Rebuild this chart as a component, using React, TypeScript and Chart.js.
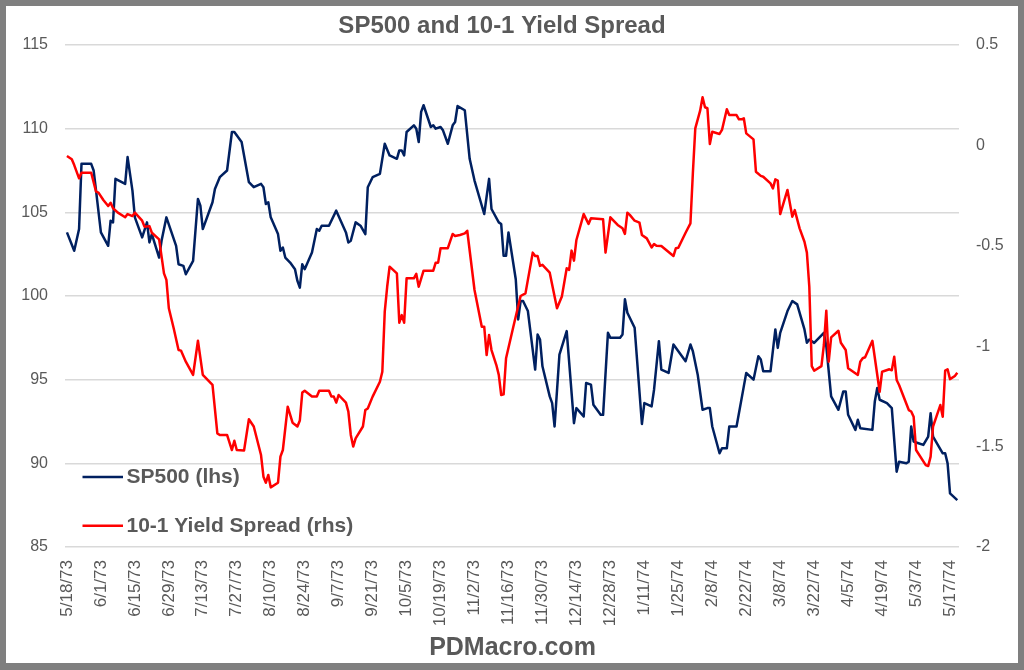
import React, { useEffect, useRef } from "react";
import { Chart, registerables } from "chart.js";

Chart.register(...registerables);

const titleText = "SP500 and 10-1 Yield Spread";
const footerText = "PDMacro.com";

// x tick labels, every 14 days starting 5/18/73 (day 0)
const dateLabels = [
  "5/18/73", "6/1/73", "6/15/73", "6/29/73", "7/13/73", "7/27/73", "8/10/73",
  "8/24/73", "9/7/73", "9/21/73", "10/5/73", "10/19/73", "11/2/73", "11/16/73",
  "11/30/73", "12/14/73", "12/28/73", "1/11/74", "1/25/74", "2/8/74", "2/22/74",
  "3/8/74", "3/22/74", "4/5/74", "4/19/74", "5/3/74", "5/17/74",
];
const tickStepDays = 14;

// SP500 (lhs): days since 5/18/73 and index level
const spDays = [
  0, 3, 5, 6, 10, 11, 12, 14, 17, 18, 19, 20, 24, 25, 27, 28, 31, 33, 34, 35,
  38, 39, 41, 45, 46, 48, 49, 52, 54, 55, 56, 60, 61, 63, 66, 68, 69, 72, 75, 77,
  80, 81, 82, 83, 84, 87, 88, 89, 90, 92, 94, 95, 96, 97, 98, 101, 103, 104, 105, 108,
  111, 115, 116, 117, 119, 121, 123, 124, 126, 129, 131, 133, 136, 137, 138, 139, 140, 143, 144, 145,
  146, 147, 150, 151, 152, 154, 155, 157, 159, 160, 161, 164, 166, 168, 172, 174, 175, 178, 179, 180,
  181, 182, 185, 186, 187, 188, 190, 193, 194, 195, 196, 199, 200, 201, 203, 206, 209, 210, 213, 214,
  216, 217, 220, 221, 223, 224, 228, 229, 230, 231, 234, 237, 238, 241, 242, 244, 245, 248, 250, 255,
  257, 258, 260, 262, 264, 265, 266, 269, 270, 272, 273, 276, 279, 280, 283, 285, 286, 287, 290, 292,
  293, 294, 297, 299, 301, 304, 305, 306, 308, 310, 312, 313, 315, 318, 320, 321, 322, 325, 326, 327,
  332, 333, 334, 335, 338, 340, 342, 343, 346, 347, 348, 349, 351, 353, 355, 356, 357, 361, 362, 363,
  364, 367,
];
const spValues = [
  103.8, 102.7, 104.0, 107.9, 107.9, 107.5, 106.3, 103.8, 103.0, 104.5, 104.4, 107.0, 106.7, 108.3, 106.3, 104.7, 103.5, 104.4, 103.2, 103.7,
  102.3, 103.3, 104.7, 103.0, 101.9, 101.8, 101.3, 102.1, 105.8, 105.4, 104.0, 105.6, 106.4, 107.1, 107.5, 109.8, 109.8, 109.2, 106.8, 106.5,
  106.7, 106.5, 105.5, 105.6, 104.7, 103.7, 102.7, 102.9, 102.3, 102.0, 101.6, 100.9, 100.5, 101.9, 101.6, 102.6, 104.0, 103.9, 104.2, 104.2,
  105.1, 103.8, 103.2, 103.3, 104.4, 104.2, 103.7, 106.5, 107.1, 107.3, 109.1, 108.4, 108.2, 108.7, 108.7, 108.4, 109.8, 110.2, 110.0, 109.2,
  111.0, 111.4, 110.1, 110.2, 110.0, 110.1, 109.9, 109.1, 110.2, 110.4, 111.35, 111.1, 108.2, 106.9, 104.9, 107.0, 105.2, 104.4, 104.3, 102.4,
  102.4, 103.8, 101.0, 98.6, 99.7, 99.7, 99.1, 95.6, 97.7, 97.4, 95.8, 94.0, 93.6, 92.2, 96.5, 97.9, 92.4, 93.3, 92.8, 94.8,
  94.7, 93.5, 92.9, 92.9, 97.8, 97.5, 97.5, 97.7, 99.8, 99.0, 98.1, 92.35, 93.6, 93.4, 94.4, 97.3, 95.6, 95.4, 97.1, 96.1,
  97.1, 96.7, 95.3, 93.2, 93.3, 93.3, 92.2, 90.6, 90.9, 90.9, 92.2, 92.2, 94.6, 95.4, 95.0, 96.4, 96.2, 95.5, 95.5, 98.0,
  96.9, 97.8, 99.1, 99.7, 99.5, 98.0, 97.2, 97.4, 97.2, 97.5, 97.8, 97.0, 94.0, 93.2, 94.3, 94.3, 92.9, 92.0, 92.6, 92.1,
  92.0, 93.7, 94.5, 93.8, 93.6, 93.3, 89.5, 90.1, 90.0, 90.1, 92.2, 91.3, 91.2, 91.1, 91.6, 93.0, 91.6, 90.6, 90.6, 90.0,
  88.2, 87.8,
];

// 10-1 Yield Spread (rhs): days since 5/18/73 and spread
const spreadDays = [
  0, 2, 3, 5, 6, 10, 12, 13, 15, 17, 18, 19, 21, 24, 25, 27, 28, 31, 32, 34,
  35, 38, 40, 41, 42, 44, 46, 47, 49, 52, 54, 56, 60, 62, 63, 66, 68, 69, 70, 73,
  75, 77, 80, 81, 82, 83, 84, 87, 88, 89, 91, 93, 95, 96, 97, 98, 101, 103, 104, 108,
  109, 110, 111, 112, 115, 116, 117, 118, 119, 122, 123, 124, 126, 129, 130, 131, 132, 133, 136, 137,
  138, 139, 140, 143, 144, 145, 147, 151, 152, 153, 154, 157, 159, 160, 162, 164, 165, 168, 171, 172,
  173, 174, 175, 177, 178, 179, 180, 181, 184, 187, 189, 192, 193, 194, 195, 196, 199, 202, 204, 206,
  207, 208, 209, 210, 213, 215, 216, 221, 222, 224, 227, 229, 230, 231, 232, 234, 236, 237, 239, 241,
  242, 243, 245, 250, 251, 252, 255, 257, 258, 259, 261, 262, 263, 264, 265, 266, 269, 270, 272, 273,
  276, 277, 278, 279, 280, 283, 284, 286, 287, 290, 291, 292, 293, 294, 297, 299, 300, 302, 304, 305,
  306, 307, 308, 311, 312, 313, 314, 315, 318, 319, 321, 322, 326, 327, 328, 329, 332, 335, 336, 339,
  340, 341, 342, 343, 347, 348, 349, 350, 354, 355, 356, 357, 360, 361, 362, 363, 364, 366, 367,
];
const spreadValues = [
  -0.053, -0.069, -0.098, -0.164, -0.136, -0.136, -0.23, -0.235, -0.272, -0.302, -0.286, -0.313, -0.335, -0.358, -0.342, -0.352, -0.335, -0.375, -0.405, -0.402,
  -0.435, -0.468, -0.637, -0.67, -0.811, -0.911, -1.019, -1.022, -1.077, -1.143, -0.973, -1.143, -1.193, -1.434, -1.442, -1.442, -1.517, -1.471, -1.517, -1.52,
  -1.364, -1.4, -1.542, -1.65, -1.68, -1.641, -1.703, -1.68, -1.55, -1.517, -1.301, -1.381, -1.4, -1.37, -1.231, -1.222, -1.251, -1.251, -1.222, -1.222,
  -1.251, -1.251, -1.281, -1.243, -1.281, -1.326, -1.442, -1.5, -1.459, -1.4, -1.318, -1.31, -1.251, -1.177, -1.127, -0.828, -0.704, -0.604, -0.637, -0.883,
  -0.845, -0.883, -0.662, -0.662, -0.64, -0.704, -0.624, -0.624, -0.584, -0.584, -0.512, -0.512, -0.441, -0.451, -0.446, -0.438, -0.425, -0.72, -0.903, -0.903,
  -1.044, -0.944, -1.019, -1.094, -1.143, -1.243, -1.24, -1.06, -0.903, -0.75, -0.737, -0.534, -0.551, -0.551, -0.6, -0.595, -0.634, -0.811, -0.753, -0.612,
  -0.62, -0.524, -0.574, -0.471, -0.342, -0.391, -0.363, -0.368, -0.534, -0.358, -0.396, -0.413, -0.441, -0.335, -0.346, -0.375, -0.385, -0.446, -0.463, -0.508,
  -0.491, -0.5, -0.501, -0.551, -0.512, -0.51, -0.435, -0.388, -0.139, 0.085, 0.173, 0.24, 0.19, 0.185, 0.007, 0.068, 0.057, 0.077, 0.18, 0.151,
  0.151, 0.13, 0.13, 0.135, 0.06, 0.03, -0.131, -0.152, -0.156, -0.189, -0.214, -0.169, -0.175, -0.342, -0.222, -0.355, -0.322, -0.413, -0.48, -0.534,
  -0.704, -1.099, -1.122, -1.099, -0.994, -0.823, -1.077, -0.956, -0.923, -0.983, -1.019, -1.11, -1.143, -1.077, -1.06, -1.055, -0.973, -1.227, -1.127, -1.115,
  -1.12, -1.052, -1.168, -1.193, -1.318, -1.325, -1.351, -1.517, -1.592, -1.597, -1.55, -1.4, -1.293, -1.351, -1.122, -1.115, -1.164, -1.148, -1.132,
];

const spLabel = "SP500 (lhs)";
const spreadLabel = "10-1 Yield Spread (rhs)";
const spColor = "#002060";
const spreadColor = "#FF0000";
const textColor = "#595959";
const FONT = "'Liberation Sans', Arial, sans-serif";

const decorPlugin = {
  id: "decor",
  afterDraw(chart: any) {
    const ctx = chart.ctx;
    ctx.save();
    ctx.fillStyle = textColor;
    ctx.textBaseline = "alphabetic";
    ctx.textAlign = "center";
    ctx.font = `bold 24px ${FONT}`;
    ctx.fillText(titleText, 496, 27);
    ctx.font = `bold 25px ${FONT}`;
    ctx.fillText(footerText, 506.5, 649);

    const items = [
      { label: spLabel, color: spColor },
      { label: spreadLabel, color: spreadColor },
    ];
    ctx.textAlign = "left";
    ctx.font = `bold 21px ${FONT}`;
    items.forEach((it, i) => {
      const ly = 471 + i * 48.7;
      ctx.strokeStyle = it.color;
      ctx.lineWidth = 2.5;
      ctx.beginPath();
      ctx.moveTo(76.5, ly);
      ctx.lineTo(117, ly);
      ctx.stroke();
      ctx.fillStyle = textColor;
      ctx.fillText(it.label, 120.5, ly + 6.3);
    });
    ctx.restore();
  },
};

export default function App() {
  const ref = useRef<HTMLCanvasElement | null>(null);

  useEffect(() => {
    if (!ref.current) return;
    const spData = spDays.map((d, i) => ({ x: d, y: spValues[i] }));
    const spreadData = spreadDays.map((d, i) => ({ x: d, y: spreadValues[i] }));

    const chart = new Chart(ref.current, {
      type: "line",
      data: {
        datasets: [
          {
            label: spLabel,
            data: spData,
            yAxisID: "y",
            borderColor: spColor,
            backgroundColor: spColor,
            borderWidth: 2.5,
            pointRadius: 0,
            tension: 0,
            borderJoinStyle: "round",
            order: 1,
          },
          {
            label: spreadLabel,
            data: spreadData,
            yAxisID: "y1",
            borderColor: spreadColor,
            backgroundColor: spreadColor,
            borderWidth: 2.5,
            pointRadius: 0,
            tension: 0,
            borderJoinStyle: "round",
            order: 0,
          },
        ],
      },
      options: {
        animation: false,
        responsive: false,
        devicePixelRatio: 1,
        events: [],
        layout: { padding: { top: 39, left: 0, right: 0, bottom: 0 } },
        plugins: {
          legend: { display: false },
          title: { display: false },
          tooltip: { enabled: false },
        },
        scales: {
          x: {
            type: "linear",
            min: -0.8,
            max: 367.7,
            border: { display: false },
            grid: { display: false, drawTicks: false },
            afterBuildTicks: (scale: any) => {
              scale.ticks = dateLabels.map((_, i) => ({ value: i * tickStepDays }));
            },
            afterFit: (scale: any) => {
              scale.height = 116;
            },
            ticks: {
              autoSkip: false,
              minRotation: 90,
              maxRotation: 90,
              padding: 13,
              color: textColor,
              font: { family: FONT, size: 17 },
              callback: (value: any) => dateLabels[Math.round(Number(value) / tickStepDays)] ?? "",
            },
          },
          y: {
            type: "linear",
            position: "left",
            min: 85,
            max: 115,
            border: { display: false },
            grid: { color: "#d9d9d9", lineWidth: 1.5, drawTicks: false },
            afterFit: (scale: any) => {
              scale.width = 59;
            },
            ticks: {
              stepSize: 5,
              padding: 17,
              color: textColor,
              font: { family: FONT, size: 16 },
              callback: (value: any) => String(Number(value)),
            },
          },
          y1: {
            type: "linear",
            position: "right",
            min: -2,
            max: 0.5,
            border: { display: false },
            grid: { display: false, drawOnChartArea: false, drawTicks: false },
            afterFit: (scale: any) => {
              scale.width = 59;
            },
            ticks: {
              stepSize: 0.5,
              padding: 17,
              color: textColor,
              font: { family: FONT, size: 16 },
              callback: (value: any) => String(Number(value)),
            },
          },
        },
      },
      plugins: [decorPlugin],
    } as any);
    return () => chart.destroy();
  }, []);

  return (
    <div
      style={{
        position: "fixed",
        left: 0,
        top: 0,
        width: 1024,
        height: 670,
        background: "#7f7f7f",
      }}
    >
      <canvas
        ref={ref}
        width={1012}
        height={657}
        style={{
          position: "absolute",
          left: 6,
          top: 6,
          width: 1012,
          height: 657,
          background: "#ffffff",
        }}
      />
    </div>
  );
}
